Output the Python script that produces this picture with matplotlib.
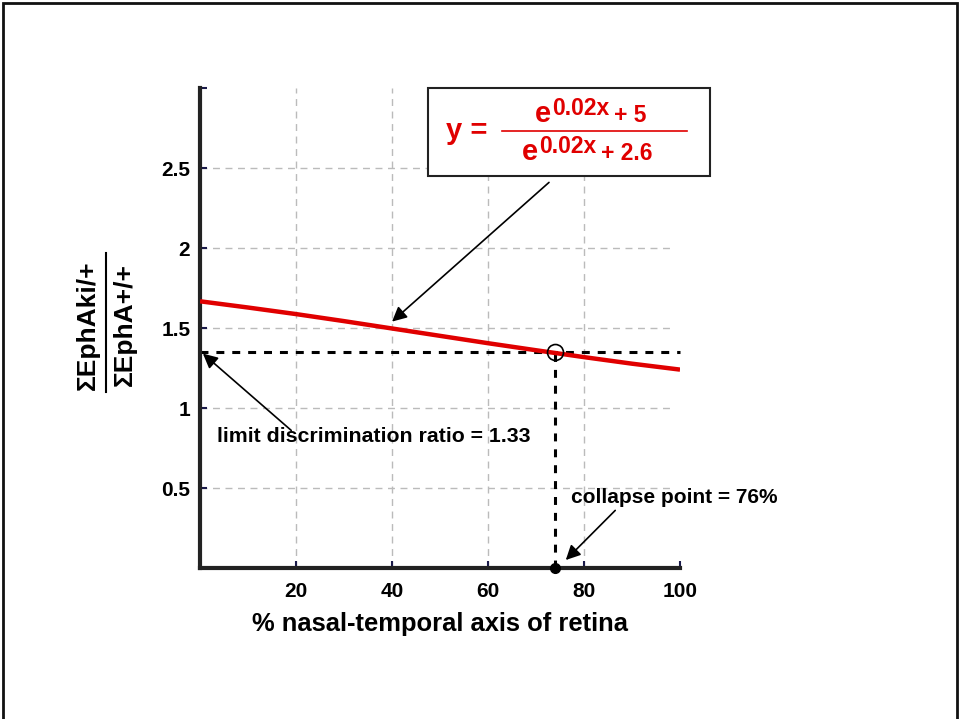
import matplotlib
matplotlib.use("Agg")
import matplotlib.pyplot as plt
from matplotlib.patches import Rectangle
from matplotlib.lines import Line2D

plt.rcParams['font.family'] = ['Liberation Sans', 'DejaVu Sans']

# curve values
x_pos = [0, 10, 20, 30, 40, 50, 60, 70, 80, 90, 100]
ratio = [1.667, 1.628, 1.587, 1.543, 1.497, 1.451, 1.405, 1.361, 1.318, 1.277, 1.240]

# marked points
limit_ratio = 1.35
collapse_x = 74

x_ticks = [20, 40, 60, 80, 100]
x_tick_labels = ["20", "40", "60", "80", "100"]
y_ticks = [0.5, 1, 1.5, 2, 2.5, 3]
y_tick_labels = ["0.5", "1", "1.5", "2", "2.5", ""]

red = "#e00000"
W, H = 959, 719


def fx(px):
    return px / W


def fy(py):
    return 1 - py / H


fig = plt.figure(figsize=(9.59, 7.19), dpi=100)
ax = fig.add_axes([0.2086, 0.21, 0.5005, 0.6676])

# grid
for gx in x_ticks[:-1]:
    ax.plot([gx, gx], [0, 3], color="#bbbbbb", lw=1, ls=(0, (5, 4)), zorder=1)
for gy in y_ticks[:-1]:
    ax.plot([0, 98.5], [gy, gy], color="#bbbbbb", lw=1, ls=(0, (5, 4)), zorder=1)

# dashed guide lines
ax.plot([0, 100], [limit_ratio, limit_ratio], color="black", lw=2.2,
        ls=(0, (2.6, 2.6)), zorder=2, clip_on=False)
ax.plot([collapse_x, collapse_x], [0, limit_ratio], color="black", lw=2.2,
        ls=(0, (2.6, 2.6)), zorder=2, clip_on=False)

# the curve
ax.plot(x_pos, ratio, color=red, lw=3.2, zorder=3, solid_capstyle="butt")

ax.plot([collapse_x], [limit_ratio], "o", ms=11.5, mfc="none", mec="black",
        mew=1.2, zorder=4)
ax.plot([collapse_x], [0], "o", ms=7, color="black", zorder=5, clip_on=False)

ax.set_xlim(0, 100)
ax.set_ylim(0, 3)
ax.set_xticks(x_ticks)
ax.set_xticklabels(x_tick_labels, fontsize=15, fontweight="bold")
ax.set_yticks(y_ticks)
ax.set_yticklabels(y_tick_labels, fontsize=15, fontweight="bold")
ax.tick_params(direction="in", length=5, width=1.5, color="#1a1a4a")
ax.tick_params(axis="y", pad=7)
ax.tick_params(axis="x", pad=10)
for side in ["top", "right"]:
    ax.spines[side].set_visible(False)
for side in ["left", "bottom"]:
    ax.spines[side].set_linewidth(3)
    ax.spines[side].set_color("#222222")

ax.set_xlabel("% nasal-temporal axis of retina", fontsize=18.4,
              fontweight="bold", labelpad=8)

# arrows and notes
arrow = dict(arrowstyle="-|>", color="black", lw=1.2, mutation_scale=22,
             shrinkA=0, shrinkB=0)
ax.annotate("", xy=(40, 1.54), xytext=(72.7, 2.41), arrowprops=arrow,
            annotation_clip=False)
ax.annotate("", xy=(0.6, 1.34), xytext=(19, 0.86), arrowprops=arrow,
            annotation_clip=False)
ax.annotate("", xy=(76.2, 0.05), xytext=(86.5, 0.36), arrowprops=arrow,
            annotation_clip=False)

ax.text(3.6, 0.82, "limit discrimination ratio = 1.33", fontsize=15.3,
        fontweight="bold", va="center", ha="left")
ax.text(77.3, 0.44, "collapse point = 76%", fontsize=15,
        fontweight="bold", va="center", ha="left")

# equation box
fig.patches.append(Rectangle((fx(428), fy(176)), 282 / W, 88 / H,
                             transform=fig.transFigure, fill=True,
                             facecolor="white", edgecolor="#222222", lw=1.5,
                             zorder=10))
eq = dict(color=red, fontweight="bold", ha="left", va="baseline", zorder=11)
fig.text(fx(446), fy(139), "y =", fontsize=21, **eq)
# numerator
fig.text(fx(535), fy(122), "e", fontsize=21, **eq)
fig.text(fx(552), fy(115), "0.02x", fontsize=16.5, **eq)
fig.text(fx(614), fy(122), "+ 5", fontsize=16.5, **eq)
# denominator
fig.text(fx(522), fy(160), "e", fontsize=21, **eq)
fig.text(fx(539), fy(153), "0.02x", fontsize=16.5, **eq)
fig.text(fx(601), fy(160), "+ 2.6", fontsize=16.5, **eq)
fig.lines.append(Line2D([fx(502), fx(687)], [fy(131), fy(131)],
                        transform=fig.transFigure, color=red, lw=1.2,
                        zorder=11))

# y label as a fraction
fig.text(fx(88), fy(325), "\u03a3EphAki/+", rotation=90, fontsize=19,
         fontweight="bold", ha="center", va="center")
fig.text(fx(125), fy(325), "\u03a3EphA+/+", rotation=90, fontsize=19,
         fontweight="bold", ha="center", va="center")
fig.lines.append(Line2D([fx(106), fx(106)], [fy(253), fy(392)],
                        transform=fig.transFigure, color="black", lw=1.5))

# outer frame
fig.patches.append(Rectangle((fx(3), -0.01), 954 / W, 1 - 3 / H + 0.01,
                             transform=fig.transFigure, fill=False,
                             edgecolor="#111111", lw=2))

fig.savefig("out.png", dpi=100)
